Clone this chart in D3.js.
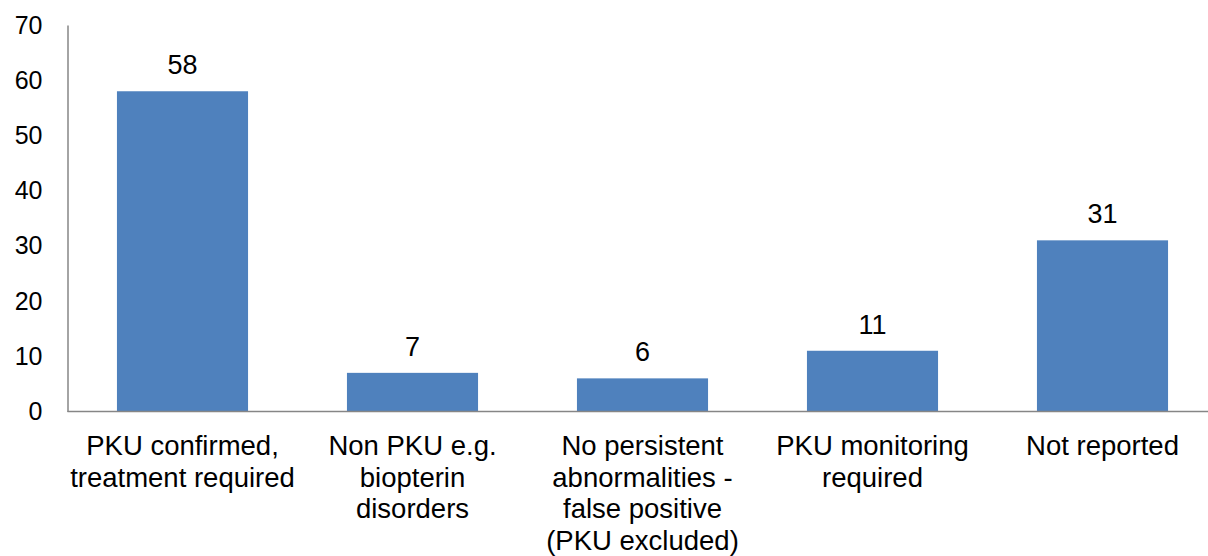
<!DOCTYPE html>
<html><head><meta charset="utf-8">
<script src="https://cdn.jsdelivr.net/npm/d3@7"></script>
<style>body{margin:0;background:#fff}svg{display:block}text{font-family:"Liberation Sans",Arial,sans-serif}</style>
</head><body>
<svg id="c" width="1208" height="556"></svg>
<script>
const categories = [
  ["PKU confirmed,", "treatment required"],
  ["Non PKU e.g.", "biopterin", "disorders"],
  ["No persistent", "abnormalities -", "false positive", "(PKU excluded)"],
  ["PKU monitoring", "required"],
  ["Not reported"]
];
const values = [58, 7, 6, 11, 31];
const yTicks = [0, 10, 20, 30, 40, 50, 60, 70];

(function () {
const svg = d3.select("#c");
const mLeft = 67.5, mBottom = 411.5, mTop = 25;
const x = d3.scaleBand().domain(d3.range(values.length)).range([mLeft, mLeft + 1150]).paddingInner(0.43).paddingOuter(0.215);
const y = d3.scaleLinear().domain([0, 70]).range([mBottom, mTop]);

svg.append("g").selectAll("rect").data(values).join("rect")
  .attr("x", (d, i) => x(i)).attr("width", x.bandwidth())
  .attr("y", d => y(d)).attr("height", d => y(0) - y(d))
  .attr("fill", "#4F81BD");

const yAxis = svg.append("g").attr("transform", `translate(${mLeft},0)`)
  .call(d3.axisLeft(y).tickValues(yTicks).tickSize(0).tickPadding(25));
yAxis.select(".domain").attr("stroke", "#868686").attr("stroke-width", 1.5);
yAxis.selectAll("text").attr("font-size", 25).attr("fill", "#000")
  .attr("font-family", "'Liberation Sans',Arial,sans-serif");

svg.append("line").attr("x1", mLeft).attr("x2", 1208).attr("y1", mBottom).attr("y2", mBottom)
  .attr("stroke", "#868686").attr("stroke-width", 1.5);

svg.append("g").selectAll("text").data(values).join("text")
  .attr("x", (d, i) => x(i) + x.bandwidth() / 2).attr("y", d => y(d) - 17)
  .attr("text-anchor", "middle").attr("font-size", 27).attr("fill", "#000").text(d => d);

const lab = svg.append("g").selectAll("text").data(categories).join("text")
  .attr("x", (d, i) => x(i) + x.bandwidth() / 2).attr("y", 455)
  .attr("text-anchor", "middle").attr("font-size", 27.5).attr("fill", "#000");
lab.selectAll("tspan").data(d => d).join("tspan")
  .attr("x", function () { return d3.select(this.parentNode).attr("x"); })
  .attr("dy", (d, j) => j === 0 ? 0 : 31.5).text(d => d);
})();
</script>
</body></html>
